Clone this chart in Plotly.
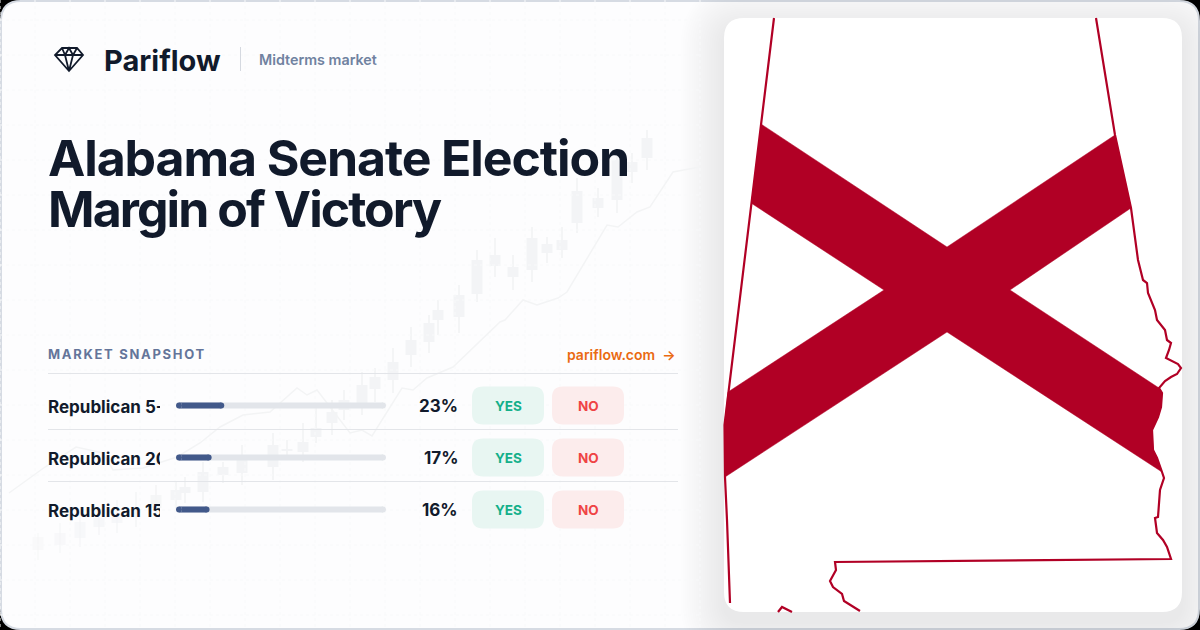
import plotly.graph_objects as go

# ---------- data ----------
outcomes = ["Republican 5-9", "Republican 20+", "Republican 15-19"]
percents = [23, 17, 16]

candle_x = [38, 60, 80, 99, 117, 136, 156, 176, 185, 203, 223, 242, 273, 287, 303, 316, 332, 344, 362, 375,
            393, 411, 429, 438, 459, 477, 495, 513, 532, 547, 562, 577, 598, 617, 632, 647]
candle_high = [533, 523, 510, 508, 500, 492, 485, 482, 477, 462, 462, 445, 433, 440, 423, 405, 400, 390, 372, 368,
               348, 327, 315, 300, 285, 250, 238, 255, 227, 237, 227, 178, 188, 150, 153, 130]
candle_low = [560, 553, 547, 535, 533, 527, 517, 510, 503, 502, 483, 485, 480, 458, 462, 443, 435, 420, 415, 402,
              393, 367, 353, 335, 333, 302, 277, 290, 282, 263, 258, 233, 217, 213, 183, 170]
candle_top = [537, 533, 522, 518, 515, 509, 495, 490, 487, 472, 467, 460, 445, 449, 442, 428, 412, 400, 385, 377,
              362, 340, 323, 310, 295, 260, 255, 267, 238, 244, 240, 191, 198, 160, 162, 138]
candle_bottom = [550, 545, 538, 527, 523, 510, 508, 500, 493, 492, 475, 473, 467, 451, 452, 437, 423, 410, 403, 389,
                 380, 355, 342, 320, 317, 294, 266, 277, 270, 253, 250, 223, 208, 200, 172, 158]

trend_x = [9, 45, 76, 103, 113, 143, 177, 200, 220, 243, 270, 297, 307, 317, 350, 362, 372, 402, 413, 427,
           453, 500, 505, 523, 537, 558, 567, 607, 618, 637, 650, 673, 700]
trend_y = [493, 467, 447, 453, 470, 468, 457, 443, 427, 415, 412, 388, 395, 390, 433, 430, 436, 388, 390, 378,
           367, 322, 320, 300, 305, 298, 292, 225, 227, 212, 207, 172, 167]

state_x = [1096, 1115, 1131, 1138, 1143, 1147, 1148, 1152, 1155, 1157, 1165, 1167, 1171, 1169, 1166, 1178, 1181,
           1177, 1171, 1165, 1159, 1162, 1161, 1158, 1152, 1153, 1157, 1162, 1164, 1160, 1159, 1158, 1155, 1157,
           1163, 1167, 1171, 835, 836, 830, 833, 842, 844, 860]
state_y = [18, 135, 208, 260, 280, 283, 293, 303, 310, 320, 330, 340, 343, 350, 358, 364, 368,
           374, 377, 381, 388, 393, 407, 417, 430, 450, 458, 472, 478, 490, 503, 517, 518, 533,
           540, 547, 559, 562, 570, 581, 587, 594, 601, 611]
west_x = [774, 761, 751, 728, 724.5, 725, 727, 730]
west_y = [18, 124, 203, 392, 425, 477, 520, 603]
island_x = [778, 782, 792]
island_y = [612, 607, 612]
cross_x = [761, 947, 1115, 1131, 1010, 1159, 1162, 1161, 1158, 1152, 1153, 1157, 1162, 947, 725, 724.5, 728, 884, 751]
cross_y = [124, 247, 135, 208, 290, 388, 393, 407, 417, 430, 450, 458, 472, 332, 477, 425, 392, 290, 203]

# ---------- palette ----------
INK = "#111a2b"
CRIMSON = "#b10025"
W, H = 1200, 630


def rrect(x0, y0, x1, y1, r):
    return (f"M{x0+r},{y0} L{x1-r},{y0} Q{x1},{y0} {x1},{y0+r} L{x1},{y1-r} Q{x1},{y1} {x1-r},{y1} "
            f"L{x0+r},{y1} Q{x0},{y1} {x0},{y1-r} L{x0},{y0+r} Q{x0},{y0} {x0+r},{y0} Z")


fig = go.Figure()
shapes = []
annots = []


def text(x, y, s, size, color, weight=400, anchor="left", spacing=None):
    if spacing is not None:
        s = f'<span style="letter-spacing:{spacing}px">{s}</span>'
    annots.append(dict(x=x, y=y, xref="x", yref="y", text=s, showarrow=False, xanchor=anchor, yanchor="middle",
                       align=anchor, font=dict(family="Inter", size=size, color=color, weight=weight)))


# card, panel shadow, panel
shapes.append(dict(type="path", path=rrect(1, 1, 1199, 629, 20), fillcolor="#fdfdfe",
                   line=dict(color="#d6dbe3", width=2), layer="below", xref="x", yref="y"))
for i in range(20):
    e = 2 + i * 2.2
    shapes.append(dict(type="path", path=rrect(724 - e, 18 - e + 10, 1182 + e, 612 + e + 10, 20 + e),
                       fillcolor="rgba(15,23,42,0.0045)", line=dict(width=0), layer="below", xref="x", yref="y"))
shapes.append(dict(type="path", path=rrect(724, 18, 1182, 612, 20), fillcolor="#ffffff",
                   line=dict(width=0), layer="below", xref="x", yref="y"))

# faint grid
gx, gy = [], []
for k in range(0, 21):
    gx += [35 * k, 35 * k, None]
    gy += [0, 630, None]
for k in range(0, 18):
    gx += [0, 700, None]
    gy += [35 * k + 20, 35 * k + 20, None]
fig.add_trace(go.Scatter(x=gx, y=gy, mode="lines", line=dict(color="#f8f9fa", width=1, dash="dot"),
                         hoverinfo="skip", showlegend=False))

# faint price line and candles, fading out towards the lower left
fade = [min(1.0, 0.3 + x / 280) for x in candle_x]
fig.add_trace(go.Scatter(x=trend_x, y=trend_y, mode="lines", line=dict(color="#f3f4f5", width=1.5),
                         hoverinfo="skip", showlegend=False))
fig.add_trace(go.Bar(x=candle_x, y=[l - h for h, l in zip(candle_high, candle_low)], base=candle_high, width=1.3,
                     marker=dict(color="#f4f5f6", opacity=fade, line=dict(width=0)), hoverinfo="skip",
                     showlegend=False))
fig.add_trace(go.Bar(x=candle_x, y=[b - t for t, b in zip(candle_top, candle_bottom)], base=candle_top, width=11,
                     marker=dict(color="#f3f4f6", opacity=fade, line=dict(width=0)), hoverinfo="skip",
                     showlegend=False))

# map
fig.add_trace(go.Scatter(x=cross_x, y=cross_y, mode="lines", fill="toself", fillcolor=CRIMSON,
                         line=dict(color=CRIMSON, width=0.5), hoverinfo="skip", showlegend=False))
for xs, ys in ((state_x, state_y), (west_x, west_y), (island_x, island_y)):
    fig.add_trace(go.Scatter(x=xs, y=ys, mode="lines", line=dict(color=CRIMSON, width=2.2), hoverinfo="skip",
                             showlegend=False))

# logo
shapes.append(dict(type="path", xref="x", yref="y", layer="above",
                   path="M62,48 L77,48 L83,55 L69,71 L55,55 Z M55,55 L83,55 M62,48 L65,55 L69,71 L73,55 L77,48 "
                        "M65,55 L69,48 L73,55",
                   line=dict(color="#111a2b", width=1.8), fillcolor="rgba(0,0,0,0)"))
text(101.5, 60, "Pariflow", 29, INK, 700)
shapes.append(dict(type="line", x0=240.5, x1=240.5, y0=47, y1=71, line=dict(color="#d5d9e0", width=1),
                   xref="x", yref="y", layer="above"))
text(256.5, 59, "Midterms market", 14.3, "#7082a0", 600)

# title
text(45.5, 158, "Alabama Senate Election", 50, INK, 700, spacing=-1.1)
text(45.5, 209, "Margin of Victory", 50, INK, 700, spacing=-1.95)

# snapshot header
text(46, 354, "MARKET SNAPSHOT", 13, "#64759a", 700, spacing=1.7)
text(678, 354, "pariflow.com  →", 14, "#ea6a12", 600, anchor="right")

row_lines = [373.5, 429.5, 481.5]
for y in row_lines:
    shapes.append(dict(type="line", x0=48, x1=678, y0=y, y1=y, line=dict(color="#e3e5e9", width=1),
                       xref="x", yref="y", layer="above"))

# rows
ROW0, ROWH = 405.5, 52
for i, p in enumerate(percents):
    cy = ROW0 + i * ROWH
    text(460, cy, f"{p}%", 17, INK, 700, anchor="right")
    shapes.append(dict(type="path", path=rrect(472, cy - 19, 544, cy + 19, 11), fillcolor="#e8f6f2",
                       line=dict(width=0), xref="x", yref="y", layer="above"))
    shapes.append(dict(type="path", path=rrect(552, cy - 19, 624, cy + 19, 11), fillcolor="#fcecec",
                       line=dict(width=0), xref="x", yref="y", layer="above"))
    text(508, cy, "YES", 13.5, "#14b08a", 700, anchor="center")
    text(588, cy, "NO", 13.5, "#ef4444", 700, anchor="center")

rows = list(range(len(outcomes)))
CAP = 3 / 210 * 100  # bar end-cap radius (3 px) in percent units of the 210 px track
for vals, color in (([100] * 3, "#e2e5ea"), (percents, "#42598a")):
    fig.add_trace(go.Bar(x=[v - 2 * CAP for v in vals], y=rows, base=CAP, orientation="h", width=0.112,
                         xaxis="x2", yaxis="y2", marker=dict(color=color, line=dict(width=0)),
                         hoverinfo="skip", showlegend=False))
for vals, color in (([100] * 3, "#e2e5ea"), (percents, "#42598a")):
    fig.add_trace(go.Scatter(x=[CAP] * 3 + [v - CAP for v in vals], y=rows + rows, mode="markers",
                             cliponaxis=False, xaxis="x2", yaxis="y2", hoverinfo="skip", showlegend=False,
                             marker=dict(color=color, size=5.9, line=dict(width=0))))
fig.add_trace(go.Scatter(x=[0] * 3, y=rows, mode="text", text=outcomes, textposition="middle right",
                         cliponaxis=True, xaxis="x3", yaxis="y3", hoverinfo="skip", showlegend=False,
                         textfont=dict(family="Inter", size=17, color=INK, weight=700)))

ydom = [1 - (ROW0 - ROWH / 2 + 3 * ROWH) / H, 1 - (ROW0 - ROWH / 2) / H]
ydom3 = [ydom[0] - 3 / H, ydom[1] - 3 / H]
hidden = dict(visible=False, fixedrange=True)
fig.update_layout(
    width=W, height=H, autosize=False, margin=dict(l=0, r=0, t=0, b=0),
    paper_bgcolor="#000000", plot_bgcolor="rgba(0,0,0,0)", barmode="overlay", showlegend=False,
    hovermode=False,
    xaxis=dict(range=[0, W], domain=[0, 1], **hidden),
    yaxis=dict(range=[H, 0], domain=[0, 1], **hidden),
    xaxis2=dict(range=[0, 100], domain=[176 / W, 386 / W], anchor="y2", **hidden),
    yaxis2=dict(range=[2.5, -0.5], domain=ydom, anchor="x2", **hidden),
    xaxis3=dict(range=[0, 112], domain=[48 / W, 160 / W], anchor="y3", **hidden),
    yaxis3=dict(range=[2.5, -0.5], domain=ydom3, anchor="x3", **hidden),
    shapes=shapes, annotations=annots,
)
fig.write_html("out.html", config={"displayModeBar": False},
               post_script="document.body.style.margin='0';document.body.style.overflow='hidden';"
                           "document.documentElement.style.background='#000';")
